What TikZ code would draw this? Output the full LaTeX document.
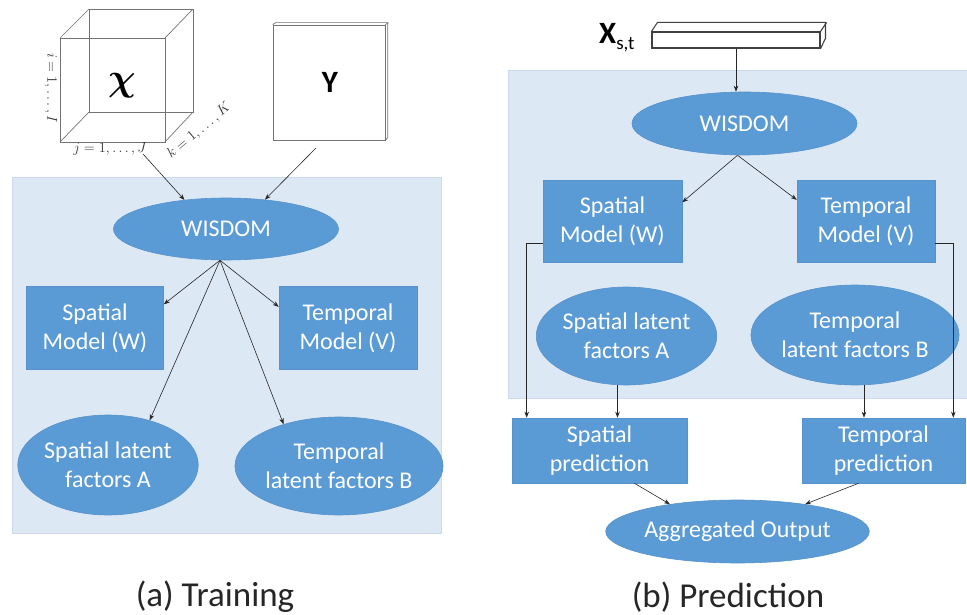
\documentclass[tikz,border=0pt]{standalone}
\usepackage{fontspec}
\setmainfont{Carlito}
\usetikzlibrary{shapes.geometric,arrows.meta,calc}
\definecolor{nodeblue}{HTML}{5B9BD5}
\definecolor{nodeedge}{HTML}{5792CB}
\definecolor{panelblue}{HTML}{DDE8F5}
\definecolor{paneledge}{HTML}{CBDAEC}
\begin{document}
\begin{tikzpicture}[x=1pt,y=-1pt,
  nodetext/.style={text=white, inner sep=0pt, align=center, font=\fontsize{24}{29}\selectfont},
  box/.style={rectangle, fill=nodeblue, draw=nodeedge, line width=0.6pt, nodetext},
  oval/.style={ellipse, fill=nodeblue, draw=nodeedge, line width=0.6pt, nodetext},
  arr/.style={-{Stealth[length=6pt,width=4.5pt]}, line width=0.6pt, draw=black!85},
  panel/.style={fill=panelblue, draw=paneledge, line width=0.8pt},
  edgethin/.style={draw=black!55, line width=0.7pt},
  edgebar/.style={draw=black!75, line width=1.1pt},
  mathlbl/.style={inner sep=0pt, font=\fontsize{14}{14}\selectfont, text=black!80},
  caption/.style={inner sep=0pt, font=\fontsize{35}{35}\selectfont, text=black!85}
]
\useasboundingbox (0,0) rectangle (967,615);

% ---------- panels ----------
\path[panel] (12,177) rectangle (441,533);
\path[panel] (508,70) rectangle (975,398);

% ---------- (a) Training ----------
% cube
\coordinate (f1) at (60,38);  \coordinate (f2) at (165,38);
\coordinate (f3) at (165,142); \coordinate (f4) at (60,142);
\coordinate (b1) at (89,9);   \coordinate (b2) at (193,9);
\coordinate (b3) at (193,112); \coordinate (b4) at (89,112);
\draw[edgethin] (f1) -- (f2) -- (f3) -- (f4) -- cycle;
\draw[edgethin] (b1) -- (b2) -- (b3) -- (b4) -- cycle;
\draw[edgethin] (f1) -- (b1) (f2) -- (b2) (f3) -- (b3) (f4) -- (b4);
\node[inner sep=0pt] (chi) at (122,86) {\scalebox{1.85}{\fontsize{20}{20}\selectfont\boldmath$\chi$}};
\node[mathlbl, rotate=-90] (ilbl) at (51,88) {$i=1,\ldots,I$};
\node[mathlbl] (jlbl) at (110,149) {$j=1,\ldots,J$};
\node[mathlbl, rotate=40] (klbl) at (199,131) {$k=1,\ldots,K$};
\coordinate (cubeout) at (143,154);

% Y matrix
\node[rectangle, draw=black!55, line width=0.7pt, fill=white, minimum width=112pt, minimum height=115pt, inner sep=0pt] (ybox) at (329,82.5) {};
\draw[edgethin] (ybox.north west) -- ++(3,-2) -- ++(112,0) -- ++(0,115) -- (ybox.south east);
\draw[edgethin] (ybox.north east) -- ++(3,-2);
\node[inner sep=0pt, font=\fontsize{31}{31}\selectfont\bfseries] (ylbl) at (330,82) {Y};
\coordinate (yout) at (316,148);

% nodes
\node[oval, minimum width=225pt, minimum height=62pt] (wL) at (226,229) {WISDOM};
\node[box, minimum width=137pt, minimum height=83pt] (smL) at (95,328) {Spatial\\Model (W)};
\node[box, minimum width=138pt, minimum height=83pt] (tmL) at (348,328) {Temporal\\Model (V)};
\node[oval, minimum width=165pt, minimum height=100pt] (slL) at (108,465) {Spatial latent\\factors A};
\node[oval, minimum width=165pt, minimum height=98pt] (tlL) at (339,466) {Temporal\\latent factors B};

\draw[arr] (cubeout) -- (wL.145);
\draw[arr] (yout) -- (wL.37);
\draw[arr] ([xshift=-6pt]wL.south) -- (smL.19);
\draw[arr] ([xshift=-6pt]wL.south) -- (tmL.163);
\draw[arr] ([xshift=-6pt]wL.south) -- (slL.47);
\draw[arr] ([xshift=-6pt]wL.south) -- (tlL.143);

\node[caption] (capa) at (215,597) {(a) Training};

% ---------- (b) Prediction ----------
\node[rectangle, draw=black!75, line width=1.1pt, fill=white, minimum width=168pt, minimum height=16pt, inner sep=0pt] (bar) at (736,40) {};
\draw[edgebar] (bar.north west) -- ++(6,-9) -- ++(168,0) -- ++(0,16) -- (bar.south east);
\draw[edgebar] (bar.north east) -- ++(6,-9);
\node[anchor=base west, inner sep=0pt] (xlbl) at (599,44) {\fontsize{31}{31}\selectfont\bfseries X\raisebox{-6pt}{\fontsize{19}{19}\selectfont\mdseries s,t}};

\node[oval, minimum width=225pt, minimum height=63pt] (wR) at (744.5,123.5) {WISDOM};
\node[box, minimum width=139pt, minimum height=82pt] (smR) at (612.5,221) {Spatial\\Model (W)};
\node[box, minimum width=138pt, minimum height=82pt] (tmR) at (866,221) {Temporal\\Model (V)};
\node[oval, minimum width=167pt, minimum height=98pt] (slR) at (626.5,336) {Spatial latent\\factors A};
\node[oval, minimum width=164pt, minimum height=100pt] (tlR) at (855,335) {Temporal\\latent factors B};
\node[box, minimum width=175pt, minimum height=65pt] (spP) at (599.5,450.5) {Spatial\\prediction};
\node[box, minimum width=163pt, minimum height=65pt] (tpP) at (883.5,450.5) {Temporal\\prediction};
\node[oval, minimum width=225pt, minimum height=63pt] (ao) at (737.5,531.5) {Aggregated Output};

\draw[arr] (bar.south) -- (bar.south |- wR.north);
\draw[arr] ([xshift=-7pt]wR.south) -- (smR.15);
\draw[arr] ([xshift=-7pt]wR.south) -- (tmR.163);
\draw[arr] (smR.198) -| ($(spP.north west)+(15,0)$);
\draw[arr] (tmR.342) -| ($(tpP.north east)+(-12,0)$);
\draw[arr] ([xshift=-9pt]slR.south) -- ([xshift=-9pt]slR.south |- spP.north);
\draw[arr] ([xshift=9pt]tlR.south) -- ([xshift=9pt]tlR.south |- tpP.north);
\draw[arr] ([xshift=35pt]spP.south) -- (ao.158);
\draw[arr] ([xshift=-25pt]tpP.south) -- (ao.22);

\node[caption] (capb) at (728,597) {(b) Prediction};
\end{tikzpicture}
\end{document}
